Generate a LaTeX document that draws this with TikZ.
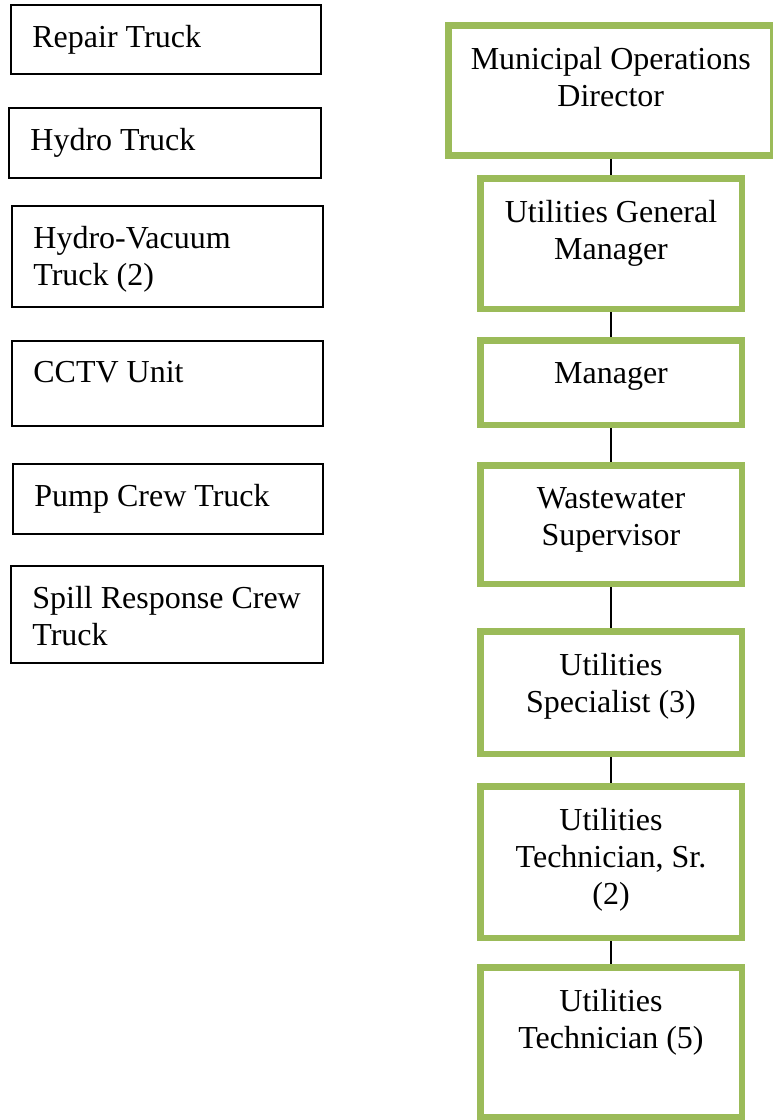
\documentclass[tikz,border=0pt]{standalone}
\usepackage{fontspec}
\setmainfont{Liberation Serif}
\usetikzlibrary{positioning}
\definecolor{postgreen}{HTML}{9BBB59}

\begin{document}
\begin{tikzpicture}[x=0.5pt, y=-0.5pt,
  truck/.style={draw=black, line width=1pt, anchor=north west, inner sep=0pt},
  post/.style={draw=postgreen, line width=3.25pt, anchor=north west, inner sep=0pt},
  trucktext/.style={anchor=north west, inner sep=0pt, align=left, xshift=11pt, yshift=-10.5pt, font=\fontsize{16}{18.5}\selectfont},
  posttext/.style={anchor=north, inner sep=0pt, align=center, yshift=-12.5pt, font=\fontsize{16}{18.5}\selectfont},
  link/.style={draw=black, line width=0.8pt}]
  \useasboundingbox (0,0) rectangle (772,1120);
  % vehicles
  \node[truck, minimum width=155pt, minimum height=34.5pt, label={[trucktext]north west:Repair Truck}] (repair) at (10,4) {};
  \node[truck, minimum width=156pt, minimum height=35pt, label={[trucktext]north west:Hydro Truck}] (hydro) at (8,107) {};
  \node[truck, minimum width=155.5pt, minimum height=50.5pt, label={[trucktext]north west:Hydro-Vacuum\\Truck (2)}] (hydrovac) at (11,205) {};
  \node[truck, minimum width=155.5pt, minimum height=42.5pt, label={[trucktext]north west:CCTV Unit}] (cctv) at (11,340) {};
  \node[truck, minimum width=155pt, minimum height=35pt, label={[trucktext]north west:Pump Crew Truck}] (pump) at (12,463) {};
  \node[truck, minimum width=156pt, minimum height=48.5pt, label={[trucktext]north west:Spill Response Crew\\Truck}] (spill) at (10,565) {};
  % staff
  \node[post, minimum width=162.5pt, minimum height=65pt, label={[posttext]north:Municipal Operations\\Director}] (director) at (445,22) {};
  \node[post, minimum width=130.75pt, minimum height=65.25pt, label={[posttext]north:Utilities General\\Manager}] (genmgr) at (477,175) {};
  \node[post, minimum width=130.75pt, minimum height=42.25pt, label={[posttext]north:Manager}] (manager) at (477,337) {};
  \node[post, minimum width=130.75pt, minimum height=59.25pt, label={[posttext]north:Wastewater\\Supervisor}] (supervisor) at (477,462) {};
  \node[post, minimum width=130.75pt, minimum height=61.25pt, label={[posttext]north:Utilities\\Specialist (3)}] (specialist) at (477,628) {};
  \node[post, minimum width=130.75pt, minimum height=75.75pt, label={[posttext]north:Utilities\\Technician, Sr.\\(2)}] (seniortech) at (477,783) {};
  \node[post, minimum width=130.75pt, minimum height=74.75pt, label={[posttext]north:Utilities\\Technician (5)}] (tech) at (477,964) {};
  \path[link] (genmgr.north |- director.south) -- (genmgr.north);
  \path[link] (genmgr.south) -- (manager.north);
  \path[link] (manager.south) -- (supervisor.north);
  \path[link] (supervisor.south) -- (specialist.north);
  \path[link] (specialist.south) -- (seniortech.north);
  \path[link] (seniortech.south) -- (tech.north);
\end{tikzpicture}
\end{document}
